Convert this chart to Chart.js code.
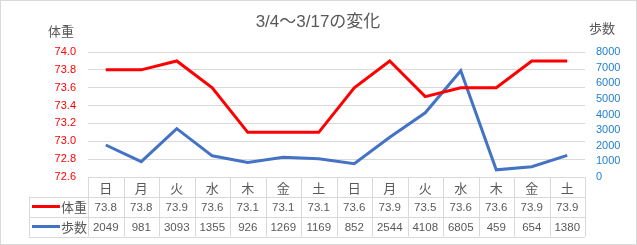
<!DOCTYPE html>
<html>
<head>
<meta charset="utf-8">
<script src="https://cdn.jsdelivr.net/npm/chart.js@4"></script>
<style>
  html, body { margin: 0; padding: 0; background: #fff; }
  #wrap { width: 637px; height: 245px; position: relative; }
</style>
</head>
<body>
<div id="wrap"><canvas id="grafica"></canvas></div>
<script>
const dias = ['日', '月', '火', '水', '木', '金', '土', '日', '月', '火', '水', '木', '金', '土'];
const peso = [73.8, 73.8, 73.9, 73.6, 73.1, 73.1, 73.1, 73.6, 73.9, 73.5, 73.6, 73.6, 73.9, 73.9];
const pasos = [2049, 981, 3093, 1355, 926, 1269, 1169, 852, 2544, 4108, 6805, 459, 654, 1380];
const titulo = '3/4～3/17の変化';

const FUENTE = '"Liberation Sans", "Noto Sans CJK JP", sans-serif';
const ROJO = '#ff0000';
const AZUL = '#4472c4';
const GRIS = '#595959';
const LINEA = '#d9d9d9';

// Title, axis names, border and the data table under the plot
const tablaPlugin = {
  id: 'tabla',
  afterDraw(chart) {
    const ctx = chart.ctx;
    const area = chart.chartArea;
    const x = chart.scales.x;
    const paso = (area.right - area.left) / dias.length;
    const filas = [area.bottom, area.bottom + 19.5, area.bottom + 39.5, area.bottom + 59.5];
    const izq = 29;

    ctx.save();
    // border
    ctx.strokeStyle = LINEA;
    ctx.lineWidth = 1;
    ctx.strokeRect(0.5, 0.5, chart.width - 1, chart.height - 1);

    // title
    ctx.fillStyle = GRIS;
    ctx.textAlign = 'center';
    ctx.textBaseline = 'middle';
    ctx.font = '17px ' + FUENTE;
    ctx.fillText(titulo, 318, 22);

    // axis names
    ctx.font = '13px "Noto Sans CJK JP", sans-serif';
    ctx.fillText('体重', 61, 31);
    ctx.fillText('歩数', 602, 28);

    // table grid
    ctx.strokeStyle = LINEA;
    ctx.beginPath();
    filas.forEach((y, i) => {
      const x0 = i === 0 ? area.left : izq;
      ctx.moveTo(x0, Math.round(y) + 0.5);
      ctx.lineTo(area.right, Math.round(y) + 0.5);
    });
    for (let i = 0; i <= dias.length; i++) {
      const xx = Math.round(area.left + i * paso) + 0.5;
      ctx.moveTo(xx, filas[0]);
      ctx.lineTo(xx, filas[3]);
    }
    ctx.moveTo(izq + 0.5, filas[1]);
    ctx.lineTo(izq + 0.5, filas[3]);
    ctx.stroke();

    // header
    ctx.fillStyle = GRIS;
    ctx.font = '13px "Noto Sans CJK JP", sans-serif';
    dias.forEach((d, i) => ctx.fillText(d, x.getPixelForValue(i), (filas[0] + filas[1]) / 2 + 1));

    // values
    ctx.font = '11.5px ' + FUENTE;
    peso.forEach((v, i) => ctx.fillText(v.toFixed(1), x.getPixelForValue(i), (filas[1] + filas[2]) / 2 + 1));
    pasos.forEach((v, i) => ctx.fillText(String(v), x.getPixelForValue(i), (filas[2] + filas[3]) / 2 + 1));

    // legend keys
    const series = [['体重', ROJO, filas[1], filas[2]], ['歩数', AZUL, filas[2], filas[3]]];
    series.forEach(([nombre, color, a, b]) => {
      const ym = (a + b) / 2;
      ctx.strokeStyle = color;
      ctx.lineWidth = 3;
      ctx.beginPath();
      ctx.moveTo(32, ym);
      ctx.lineTo(60, ym);
      ctx.stroke();
      ctx.fillStyle = GRIS;
      ctx.font = '13px "Noto Sans CJK JP", sans-serif';
      ctx.textAlign = 'left';
      ctx.fillText(nombre, 61, ym + 1);
    });
    ctx.restore();
  }
};

new Chart(document.getElementById('grafica'), {
  type: 'line',
  data: {
    labels: dias,
    datasets: [
      {
        label: '体重',
        data: peso,
        yAxisID: 'y',
        borderColor: ROJO,
        borderWidth: 3,
        pointRadius: 0,
        tension: 0
      },
      {
        label: '歩数',
        data: pasos,
        yAxisID: 'y2',
        borderColor: AZUL,
        borderWidth: 3,
        pointRadius: 0,
        tension: 0
      }
    ]
  },
  options: {
    responsive: true,
    maintainAspectRatio: false,
    animation: false,
    layout: { padding: { top: 52, bottom: 68, left: 0, right: 0 } },
    plugins: {
      legend: { display: false },
      title: { display: false },
      tooltip: { enabled: false }
    },
    scales: {
      x: {
        display: false,
        offset: true
      },
      y: {
        position: 'left',
        min: 72.6,
        max: 74.0,
        afterFit(s) { s.width = 88; },
        border: { display: false },
        grid: { color: LINEA, drawTicks: false },
        ticks: {
          stepSize: 0.2,
          autoSkip: false,
          color: ROJO,
          padding: 12,
          font: { size: 11, family: FUENTE },
          callback: v => Number(v).toFixed(1)
        }
      },
      y2: {
        position: 'right',
        min: 0,
        max: 8000,
        afterFit(s) { s.width = 52; },
        border: { display: false },
        grid: { display: false, drawTicks: false },
        ticks: {
          stepSize: 1000,
          autoSkip: false,
          color: '#1f7fd0',
          padding: 11,
          font: { size: 11, family: FUENTE },
          callback: v => String(v)
        }
      }
    }
  },
  plugins: [tablaPlugin]
});
</script>
</body>
</html>
